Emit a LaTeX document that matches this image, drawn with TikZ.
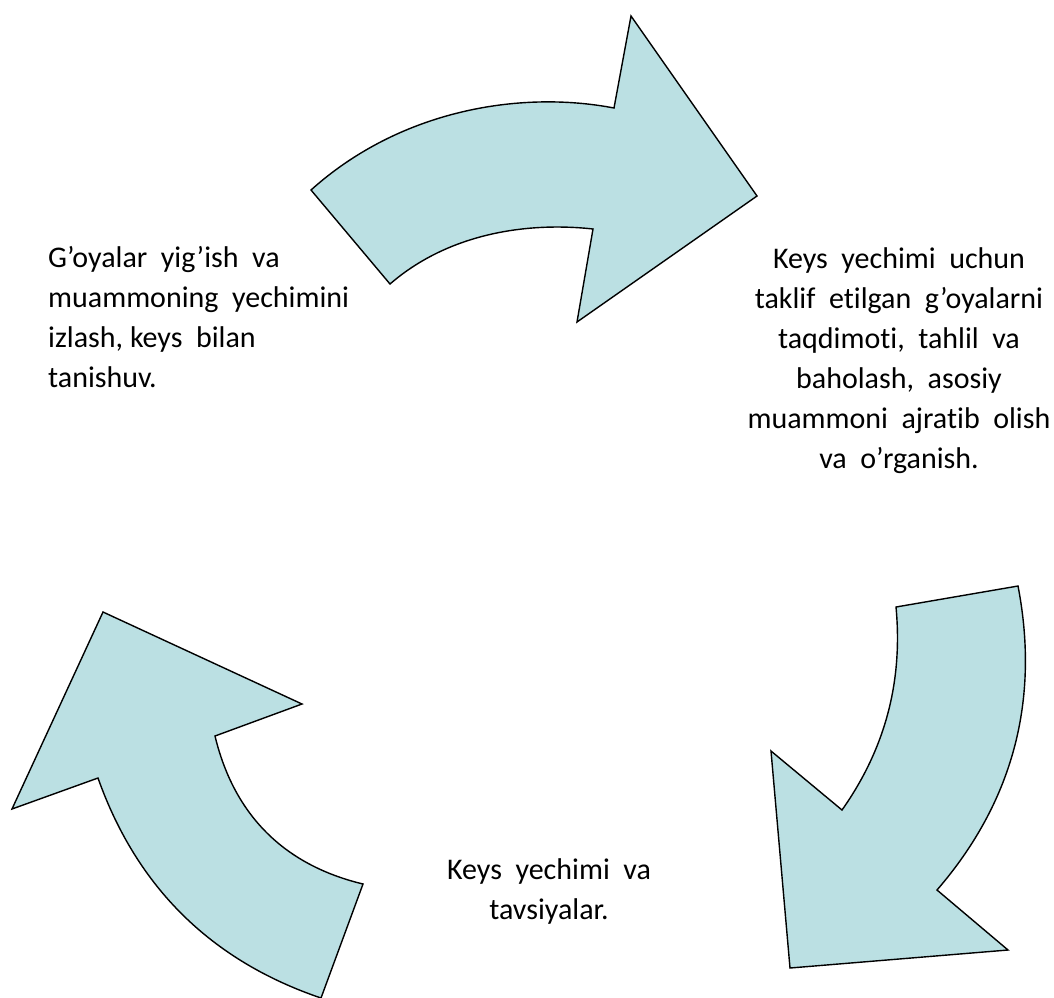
\documentclass[tikz,border=0pt]{standalone}
\usepackage{fontspec}
\setmainfont{Carlito}
\newfontfamily\stepfont[WordSpace=2, Ligatures=NoCommon]{Carlito}
\frenchspacing
\usepackage{tikz}
\definecolor{arrowblue}{RGB}{187,224,227}

\begin{document}
\begin{tikzpicture}[x=1pt, y=-1pt,
                    cyclearrow/.style={draw=black, fill=arrowblue, line width=1.4pt, line join=miter},
                    steptext/.style={font=\stepfont\fontsize{30}{40}\selectfont, inner sep=0pt}]
                    \useasboundingbox (0,0) rectangle (1054,997);
                    % upper arrow
                    \draw[cyclearrow] (311,190) .. controls (400,110) and (520,90) .. (614,108)
                        -- (631,16) -- (757,196) -- (577,322) -- (593,229)
                        .. controls (530,222) and (450,232) .. (390,284) -- cycle;
                    % right arrow
                    \draw[cyclearrow] (896,607) -- (1018,586)
                        .. controls (1040,700) and (1013,802) .. (937,890)
                        -- (1008,950) -- (790,968) -- (771,751) -- (842,810)
                        .. controls (885,749) and (903,682) .. (896,607) -- cycle;
                    % left arrow
                    \draw[cyclearrow] (103,612) -- (302,704) -- (215,736)
                        .. controls (234,815) and (284,865) .. (363,884) -- (321,998)
                        .. controls (212,961) and (137,888) .. (98,778) -- (12,809) -- cycle;
                    % texts (base = last line)
                    \node[steptext, anchor=base west, align=left] (ideas) at (48,387)
                        {G’oyalar yig’ish va\\ muammoning yechimini\\ izlash,\hspace{0.23em}keys bilan\\ tanishuv.};
                    \node[steptext, anchor=base, align=center] (analysis) at (899,468)
                        {Keys yechimi uchun\\ taklif etilgan g’oyalarni\\ taqdimoti, tahlil va\\ baholash, asosiy\\ muammoni ajratib olish\\ va o’rganish.};
                    \node[steptext, anchor=base, align=center] (solution) at (549,919)
                        {Keys yechimi va\\ tavsiyalar.};
                \end{tikzpicture}
\end{document}
